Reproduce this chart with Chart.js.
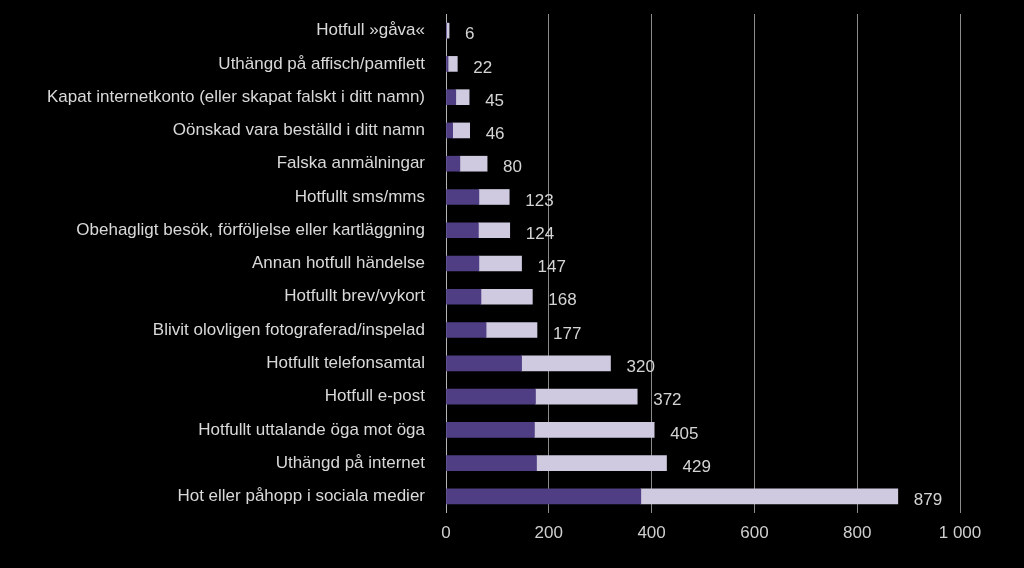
<!DOCTYPE html>
<html>
<head>
<meta charset="utf-8">
<script src="https://cdn.jsdelivr.net/npm/chart.js@4"></script>
<style>
  html, body { margin: 0; padding: 0; background: #000; }
  #wrap { width: 1024px; height: 568px; }
</style>
</head>
<body>
<div id="wrap"><canvas id="hotChart"></canvas></div>
<script>
const categories = [
  'Hotfull »gåva«',
  'Uthängd på affisch/pamflett',
  'Kapat internetkonto (eller skapat falskt i ditt namn)',
  'Oönskad vara beställd i ditt namn',
  'Falska anmälningar',
  'Hotfullt sms/mms',
  'Obehagligt besök, förföljelse eller kartläggning',
  'Annan hotfull händelse',
  'Hotfullt brev/vykort',
  'Blivit olovligen fotograferad/inspelad',
  'Hotfullt telefonsamtal',
  'Hotfull e-post',
  'Hotfullt uttalande öga mot öga',
  'Uthängd på internet',
  'Hot eller påhopp i sociala medier'
];
const totals = [6, 22, 45, 46, 80, 123, 124, 147, 168, 177, 320, 372, 405, 429, 879];
const darkPart = [1, 4, 19, 13, 27, 64, 63, 64, 68, 78, 147, 174, 172, 176, 379];
const lightPart = totals.map((t, i) => t - darkPart[i]);
const xTicks = [0, 200, 400, 600, 800, 1000];

const fontFamily = '"Liberation Sans", Arial, sans-serif';

const totalLabels = {
  id: 'totalLabels',
  afterDatasetsDraw(chart) {
    const { ctx, scales } = chart;
    ctx.save();
    ctx.fillStyle = '#d4d4d4';
    ctx.font = '17px ' + fontFamily;
    ctx.textAlign = 'left';
    ctx.textBaseline = 'middle';
    totals.forEach((t, i) => {
      const x = scales.x.getPixelForValue(t) + 16;
      const y = scales.y.getPixelForValue(i) + 4;
      ctx.fillText(String(t), x, y);
    });
    ctx.restore();
  }
};

new Chart(document.getElementById('hotChart'), {
  type: 'bar',
  data: {
    labels: categories,
    datasets: [
      { data: darkPart, backgroundColor: '#4f3e84', borderWidth: 0, barThickness: 15 },
      { data: lightPart, backgroundColor: '#cfcae0', borderWidth: 0, barThickness: 15 }
    ]
  },
  options: {
    indexAxis: 'y',
    responsive: true,
    maintainAspectRatio: false,
    animation: false,
    layout: { padding: { top: 14, right: 64, bottom: 0, left: 0 } },
    plugins: { legend: { display: false }, tooltip: { enabled: false } },
    scales: {
      x: {
        stacked: true,
        min: 0,
        max: 1000,
        afterBuildTicks: s => { s.ticks = xTicks.map(v => ({ value: v })); },
        afterFit: s => { s.height = 55; },
        grid: {
          drawTicks: false,
          color: c => (c.tick && c.tick.value === 0 ? '#b5b5b5' : '#8c8c8c'),
          lineWidth: 1
        },
        border: { display: false },
        ticks: {
          padding: 10,
          color: '#cfcfcf',
          font: { family: fontFamily, size: 17 },
          callback: v => String(v).replace(/\B(?=(\d{3})+(?!\d))/g, ' ')
        }
      },
      y: {
        stacked: true,
        afterFit: s => { s.width = 446; s.paddingTop = 0; s.paddingBottom = 0; },
        grid: { display: false },
        border: { display: false },
        ticks: {
          padding: 13,
          color: '#d9d9d9',
          font: { family: fontFamily, size: 17 }
        }
      }
    }
  },
  plugins: [totalLabels]
});
</script>
</body>
</html>
